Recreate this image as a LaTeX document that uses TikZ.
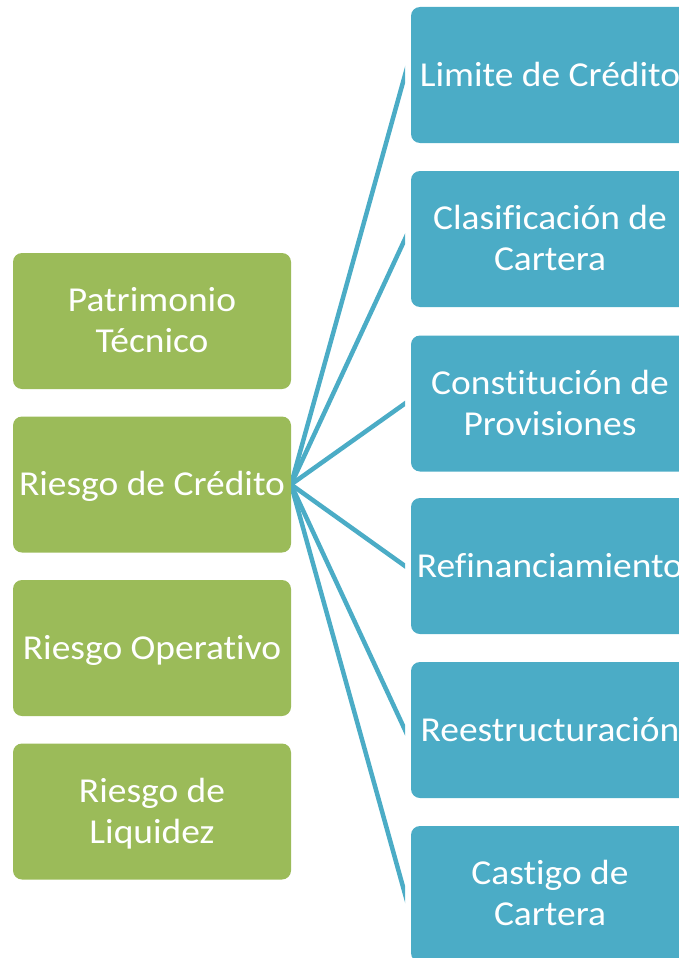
\documentclass[tikz,border=0pt]{standalone}
\usepackage{fontspec}
\setmainfont{Carlito}[Ligatures=NoCommon, FakeStretch=1.07]
\usetikzlibrary{calc}
\definecolor{olivegreen}{HTML}{9BBB59}
\definecolor{aquablue}{HTML}{4BACC6}
\tikzset{
  gbox/.style={draw=none, fill=olivegreen, rounded corners=9pt, minimum width=278pt, minimum height=136pt, inner sep=0pt},
  bbox/.style={draw=none, fill=aquablue, rounded corners=9pt, minimum width=278pt, minimum height=136pt, inner sep=0pt},
  txt/.style={text=white, anchor=base, inner sep=0pt, font=\fontsize{35}{41}\selectfont},
  conn/.style={draw=aquablue, line width=4.5pt, shorten <=-12pt, shorten >=-12pt}
}
\begin{document}
\begin{tikzpicture}[x=1pt,y=-1pt]
\useasboundingbox (0,0) rectangle (679,958);
\clip (0,0) rectangle (679,958);
% connectors
\begin{scope}
\clip (291,0) rectangle (405,958);
\coordinate (src) at (291,484.5);
\coordinate (e1) at (405,75);
\coordinate (e2) at (405,239);
\coordinate (e3) at (405,403.5);
\coordinate (e4) at (405,566);
\coordinate (e5) at (405,730);
\coordinate (e6) at (405,894);
\foreach \e in {e1,e2,e3,e4,e5,e6} \draw[conn] (src) -- (\e);
\end{scope}
% green boxes
\node[gbox] (g1) at (152,321) {};
\node[gbox] (g2) at (152,484.5) {};
\node[gbox] (g3) at (152,648) {};
\node[gbox] (g4) at (152,811.5) {};
% blue boxes
\node[bbox] (b1) at (550,75) {};
\node[bbox] (b2) at (550,239) {};
\node[bbox] (b3) at (550,403.5) {};
\node[bbox] (b4) at (550,566) {};
\node[bbox] (b5) at (550,730) {};
\node[bbox] (b6) at (550,894) {};
% texts green
\node[txt] at ($(g1.center)+(0,-9.5)$) {Patrimonio};
\node[txt] at ($(g1.center)+(0,31.5)$) {Técnico};
\node[txt] at ($(g2.center)+(0,11)$) {Riesgo de Crédito};
\node[txt] at ($(g3.center)+(0,11)$) {Riesgo Operativo};
\node[txt] at ($(g4.center)+(0,-9.5)$) {Riesgo de};
\node[txt] at ($(g4.center)+(0,31.5)$) {Liquidez};
% texts blue
\node[txt] at ($(b1.center)+(0,11)$) {Limite de Crédito};
\node[txt] at ($(b2.center)+(0,-9.5)$) {Clasificación de};
\node[txt] at ($(b2.center)+(0,31.5)$) {Cartera};
\node[txt] at ($(b3.center)+(0,-9.5)$) {Constitución de};
\node[txt] at ($(b3.center)+(0,31.5)$) {Provisiones};
\node[txt] at ($(b4.center)+(0,11)$) {Refinanciamiento};
\node[txt] at ($(b5.center)+(0,11)$) {Reestructuración};
\node[txt] at ($(b6.center)+(0,-9.5)$) {Castigo de};
\node[txt] at ($(b6.center)+(0,31.5)$) {Cartera};
\end{tikzpicture}
\end{document}
